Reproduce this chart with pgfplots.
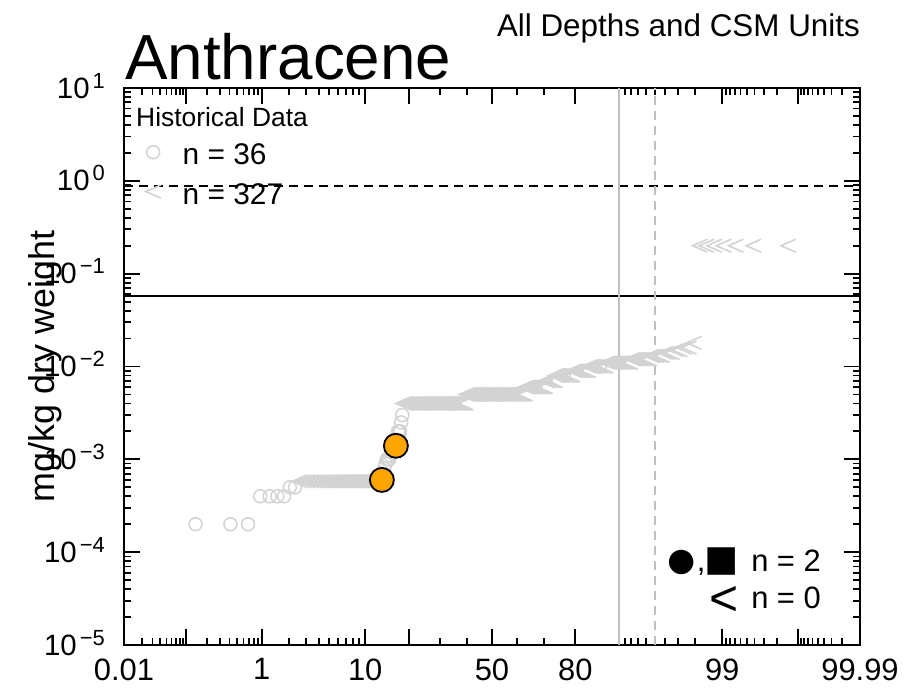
\documentclass[border=0pt]{standalone}
\usepackage{fontspec}
\setmainfont{Liberation Sans}
\usepackage{pgfplots}
\usepackage{pgfplotstable}
\pgfplotsset{compat=1.18}
\definecolor{histgray}{RGB}{211,211,211}
\definecolor{linegray}{RGB}{192,192,192}
\definecolor{orangept}{RGB}{255,165,0}

\pgfdeclareplotmark{chev}{%
  \pgfpathmoveto{\pgfpoint{1.15\pgfplotmarksize}{\pgfplotmarksize}}%
  \pgfpathlineto{\pgfpoint{-1.15\pgfplotmarksize}{0pt}}%
  \pgfpathlineto{\pgfpoint{1.15\pgfplotmarksize}{-\pgfplotmarksize}}%
  \pgfusepathqstroke}

\newcommand{\tl}[1]{10\kern3bp\raisebox{10bp}[0pt][0pt]{\fontsize{22}{22}\selectfont #1}}
\newcommand{\bigsym}[2]{\raisebox{#1}[0pt][0pt]{\fontsize{57}{57}\selectfont #2}}

\pgfplotsset{markonlylegend/.style={legend image code/.code={\draw[##1] plot coordinates {(0bp,3bp)};}}}

% detected historical values: rank, value (mg/kg)
\pgfplotstableread[row sep=\\]{
r v\\
1 0.0002\\ 2 0.0002\\ 3 0.0002\\ 4 0.0004\\ 5 0.0004\\ 6 0.0004\\ 7 0.0004\\ 8 0.0005\\ 9 0.0005\\
46 0.0006\\ 47 0.0006\\ 48 0.0006\\ 50 0.0007\\ 51 0.0008\\ 52 0.0009\\ 53 0.001\\ 54 0.001\\ 55 0.001\\
56 0.0011\\ 57 0.0012\\ 58 0.0013\\ 59 0.0013\\ 60 0.0014\\ 62 0.0016\\ 63 0.002\\ 64 0.002\\ 65 0.002\\
66 0.0025\\ 67 0.003\\ 100 0.004\\ 130 0.004\\ 170 0.005\\ 200 0.005\\ 245 0.006\\ 280 0.008\\ 315 0.010\\
}\histdet

% current data
\pgfplotstableread[row sep=\\]{
r v\\
49 0.0006\\ 61 0.0014\\
}\current

% historical non-detects: rank, detection limit
\pgfplotstableread[row sep=\\]{
r v\\
10 0.00058\\ 11 0.00058\\ 12 0.00058\\ 13 0.00058\\ 14 0.00058\\ 15 0.00058\\ 16 0.00058\\ 17 0.00058\\ 18 0.00058\\ 19 0.00058\\
20 0.00058\\ 21 0.00058\\ 22 0.00058\\ 23 0.00058\\ 24 0.00058\\ 25 0.00058\\ 26 0.00058\\ 27 0.00058\\ 28 0.00058\\ 29 0.00058\\
30 0.00058\\ 31 0.00058\\ 32 0.00058\\ 33 0.00058\\ 34 0.00058\\ 35 0.00058\\ 36 0.00058\\ 37 0.00058\\ 38 0.00058\\ 39 0.00058\\
40 0.00058\\ 41 0.00058\\ 42 0.00058\\ 43 0.00058\\ 44 0.00058\\ 45 0.00058\\
68 0.004\\ 69 0.004\\ 70 0.004\\ 71 0.004\\ 72 0.004\\ 73 0.004\\ 74 0.004\\ 75 0.004\\ 76 0.004\\ 77 0.004\\
78 0.004\\ 79 0.004\\ 80 0.004\\ 81 0.004\\ 82 0.004\\ 83 0.004\\ 84 0.004\\ 85 0.004\\ 86 0.004\\ 87 0.004\\
88 0.004\\ 89 0.004\\ 90 0.004\\ 91 0.004\\ 92 0.004\\ 93 0.004\\ 94 0.004\\ 95 0.004\\ 96 0.004\\ 97 0.004\\
98 0.004\\ 99 0.004\\ 101 0.004\\ 102 0.004\\ 103 0.004\\ 104 0.004\\ 105 0.004\\ 106 0.004\\ 107 0.004\\ 108 0.004\\
109 0.004\\ 110 0.004\\ 111 0.004\\ 112 0.004\\ 113 0.004\\ 114 0.004\\ 115 0.004\\ 116 0.004\\ 117 0.004\\ 118 0.004\\
119 0.004\\ 120 0.004\\ 121 0.004\\ 122 0.004\\ 123 0.004\\ 124 0.004\\ 125 0.004\\ 126 0.004\\ 127 0.004\\ 128 0.004\\
129 0.004\\ 131 0.004\\ 132 0.004\\ 133 0.004\\ 134 0.004\\ 135 0.004\\ 136 0.004\\ 137 0.004\\ 138 0.004\\ 139 0.004\\
140 0.004\\ 141 0.004\\ 142 0.004\\ 143 0.004\\ 144 0.004\\ 145 0.004\\
146 0.005\\ 147 0.005\\ 148 0.005\\ 149 0.005\\ 150 0.005\\ 151 0.005\\ 152 0.005\\ 153 0.005\\ 154 0.005\\ 155 0.005\\
156 0.005\\ 157 0.005\\ 158 0.005\\ 159 0.005\\ 160 0.005\\ 161 0.005\\ 162 0.005\\ 163 0.005\\ 164 0.005\\ 165 0.005\\
166 0.005\\ 167 0.005\\ 168 0.005\\ 169 0.005\\ 171 0.005\\ 172 0.005\\ 173 0.005\\ 174 0.005\\ 175 0.005\\ 176 0.005\\
177 0.005\\ 178 0.005\\ 179 0.005\\ 180 0.005\\ 181 0.005\\ 182 0.005\\ 183 0.005\\ 184 0.005\\ 185 0.005\\ 186 0.005\\
187 0.005\\ 188 0.005\\ 189 0.005\\ 190 0.005\\ 191 0.005\\ 192 0.005\\ 193 0.005\\ 194 0.005\\ 195 0.005\\ 196 0.005\\
197 0.005\\ 198 0.005\\ 199 0.005\\ 201 0.005\\ 202 0.005\\ 203 0.005\\ 204 0.005\\ 205 0.005\\ 206 0.005\\ 207 0.005\\
208 0.005\\ 209 0.005\\ 210 0.005\\ 211 0.005\\ 212 0.005\\ 213 0.005\\ 214 0.005\\ 215 0.005\\ 216 0.005\\ 217 0.005\\
218 0.005\\ 219 0.005\\ 220 0.005\\ 221 0.005\\ 222 0.005\\ 223 0.005\\ 224 0.005\\ 225 0.005\\ 226 0.005\\ 227 0.005\\
228 0.005\\ 229 0.005\\ 230 0.005\\ 231 0.005\\
232 0.006\\ 233 0.006\\ 234 0.006\\ 235 0.006\\ 236 0.006\\ 237 0.006\\ 238 0.006\\ 239 0.006\\ 240 0.006\\ 241 0.006\\
242 0.006\\ 243 0.006\\ 244 0.006\\ 246 0.006\\ 247 0.006\\ 248 0.006\\ 249 0.006\\ 250 0.006\\ 251 0.006\\ 252 0.006\\
253 0.006\\ 254 0.006\\ 255 0.006\\ 256 0.006\\ 257 0.006\\ 258 0.006\\
259 0.007\\ 260 0.007\\ 261 0.007\\ 262 0.007\\ 263 0.007\\ 264 0.007\\ 265 0.007\\ 266 0.007\\ 267 0.007\\ 268 0.007\\
269 0.007\\ 270 0.007\\
271 0.008\\ 272 0.008\\ 273 0.008\\ 274 0.008\\ 275 0.008\\ 276 0.008\\ 277 0.008\\ 278 0.008\\ 279 0.008\\ 281 0.008\\
282 0.008\\ 283 0.008\\ 284 0.008\\ 285 0.008\\ 286 0.008\\ 287 0.008\\ 288 0.008\\ 289 0.008\\ 290 0.008\\
291 0.009\\ 292 0.009\\ 293 0.009\\ 294 0.009\\ 295 0.009\\ 296 0.009\\ 297 0.009\\ 298 0.009\\ 299 0.009\\ 300 0.009\\
301 0.009\\ 302 0.009\\ 303 0.009\\ 304 0.009\\ 305 0.009\\
306 0.010\\ 307 0.010\\ 308 0.010\\ 309 0.010\\ 310 0.010\\ 311 0.010\\ 312 0.010\\ 313 0.010\\ 314 0.010\\ 316 0.010\\
317 0.010\\ 318 0.010\\ 319 0.010\\ 320 0.010\\
321 0.011\\ 322 0.011\\ 323 0.011\\ 324 0.011\\ 325 0.011\\ 326 0.011\\ 327 0.011\\ 328 0.011\\ 329 0.011\\ 330 0.011\\
331 0.011\\ 332 0.011\\ 333 0.011\\ 334 0.011\\ 335 0.011\\ 336 0.011\\
337 0.012\\ 338 0.012\\ 339 0.012\\ 340 0.012\\ 341 0.012\\ 342 0.012\\ 343 0.012\\ 344 0.012\\ 345 0.012\\
346 0.013\\ 347 0.013\\ 348 0.013\\ 349 0.013\\ 350 0.013\\
351 0.014\\ 352 0.014\\ 353 0.014\\ 354 0.015\\ 355 0.015\\ 356 0.016\\ 357 0.016\\ 358 0.018\\
359 0.2\\ 360 0.2\\ 361 0.2\\ 362 0.2\\ 363 0.2\\ 364 0.2\\ 365 0.2\\
}\ndtab

\begin{document}
\begin{tikzpicture}[declare function={
    probT(\x)=sqrt(-2*ln(min(\x,1-\x)));
    probit(\x)=(1-2*(\x<0.5))*(probT(\x)-(2.515517+0.802853*probT(\x)+0.010328*probT(\x)^2)/(1+1.432788*probT(\x)+0.189269*probT(\x)^2+0.001308*probT(\x)^3));
  }]
\useasboundingbox (-124bp,-48bp) rectangle (783bp,645bp);
\begin{axis}[
  at={(0,0)}, anchor=south west,
  scale only axis, width=736bp, height=557bp,
  xmin=-3.719, xmax=3.719, ymin=1e-5, ymax=10, ymode=log,
  axis line style={line width=2.4bp},
  every tick/.style={black, line width=1.8bp},
  major tick length=16bp, minor tick length=7bp,
  xtick={-3.719,-3.0902,-2.3263,-1.2816,-0.8416,0,0.8416,1.2816,2.3263,3.0902,3.719},
  xticklabels={0.01,,1,10,,50,80,,99,,99.99},
  minor xtick={-3.5401,-3.4316,-3.3528,-3.2905,-3.2389,-3.1947,-3.1559,-3.1214,
    -2.8782,-2.7478,-2.6521,-2.5758,-2.5121,-2.4573,-2.4089,-2.3656,
    -2.0537,-1.8808,-1.7507,-1.6449,-1.5548,-1.4758,-1.4051,-1.3408,
    -0.5244,-0.2533,0.2533,0.5244,
    1.3408,1.4051,1.4758,1.5548,1.6449,1.7507,1.8808,2.0537,
    2.3656,2.4089,2.4573,2.5121,2.5758,2.6521,2.7478,2.8782,
    3.1214,3.1559,3.1947,3.2389,3.2905,3.3528,3.4316,3.5401},
  ytick={1e-5,1e-4,1e-3,1e-2,1e-1,1,10},
  yticklabels={\tl{−5},\tl{−4},\tl{−3},\tl{−2},\tl{−1},\tl{0},\tl{1}},
  minor ytick={2e-5,3e-5,4e-5,5e-5,6e-5,7e-5,8e-5,9e-5,
    2e-4,3e-4,4e-4,5e-4,6e-4,7e-4,8e-4,9e-4,
    2e-3,3e-3,4e-3,5e-3,6e-3,7e-3,8e-3,9e-3,
    2e-2,3e-2,4e-2,5e-2,6e-2,7e-2,8e-2,9e-2,
    0.2,0.3,0.4,0.5,0.6,0.7,0.8,0.9,2,3,4,5,6,7,8,9},
  xticklabel style={font=\fontsize{31}{31}\selectfont, yshift=-10bp},
  yticklabel style={font=\fontsize{29.5}{29.5}\selectfont, inner sep=0pt, xshift=-19bp},
  ylabel={mg/kg dry weight},
  ylabel style={font=\fontsize{36}{36}\selectfont, at={(axis description cs:-0.0938,0.5)}, anchor=base},
  legend style={at={(axis description cs:0,1)}, anchor=north west,
    draw=none, fill=none, inner sep=0pt, outer sep=0pt,
    xshift=21.75bp, yshift=-56bp,
    font=\fontsize{30}{30}\selectfont,
    row sep=17bp,
    nodes={inner sep=0pt, outer sep=0pt},
    /tikz/every odd column/.append style={column sep=22bp}},
  legend cell align=left,
  markonlylegend,
]
\addplot[only marks, mark=o, mark size=6.5bp, histgray, line width=1.5bp]
  table[x expr={probit((\thisrow{r}-0.5)/365)}, y=v]{\histdet};
\addlegendentry{n = 36}
\addplot[only marks, mark=chev, mark size=6.5bp, histgray, line width=1.6bp]
  table[x expr={probit((\thisrow{r}-0.5)/365)}, y=v]{\ndtab};
\addlegendentry{n = 327}
\addplot[forget plot, black, line width=1.8bp, dash pattern=on 9bp off 6bp] coordinates {(-3.719,0.88) (3.719,0.88)};
\addplot[forget plot, black, line width=1.8bp] coordinates {(-3.719,0.057) (3.719,0.057)};
\addplot[forget plot, linegray, line width=2bp] coordinates {(1.2816,1e-5) (1.2816,10)};
\addplot[forget plot, linegray, line width=2bp, dash pattern=on 9bp off 6bp] coordinates {(1.6449,1e-5) (1.6449,10)};
\addplot[forget plot, only marks, mark=*, mark size=12bp, draw=black, fill=orangept, line width=1.8bp]
  table[x expr={probit((\thisrow{r}-0.5)/365)}, y=v]{\current};
\end{axis}
\node[anchor=base west, inner sep=0pt, font=\fontsize{64}{64}\selectfont] at (1bp,565bp) {Anthracene};
\node[anchor=base east, inner sep=0pt, font=\fontsize{31.5}{31.5}\selectfont] at (736bp,608bp) {All Depths and CSM Units};
\node[anchor=base west, inner sep=0pt, font=\fontsize{26.5}{26.5}\selectfont] at (12bp,518bp) {Historical Data};
\node[anchor=base east, inner sep=0pt, font=\fontsize{31}{37}\selectfont] at (697bp,73bp)
  {\begin{tabular}[t]{@{}r@{\hspace{12.5bp}}l@{}}
   \bigsym{-7bp}{●}\kern-2bp,\kern-1bp\bigsym{-7bp}{■} & n = 2\\
   \raisebox{-7bp}[0pt][0pt]{\fontsize{50}{50}\selectfont <} & n = 0
   \end{tabular}};
\end{tikzpicture}
\end{document}
